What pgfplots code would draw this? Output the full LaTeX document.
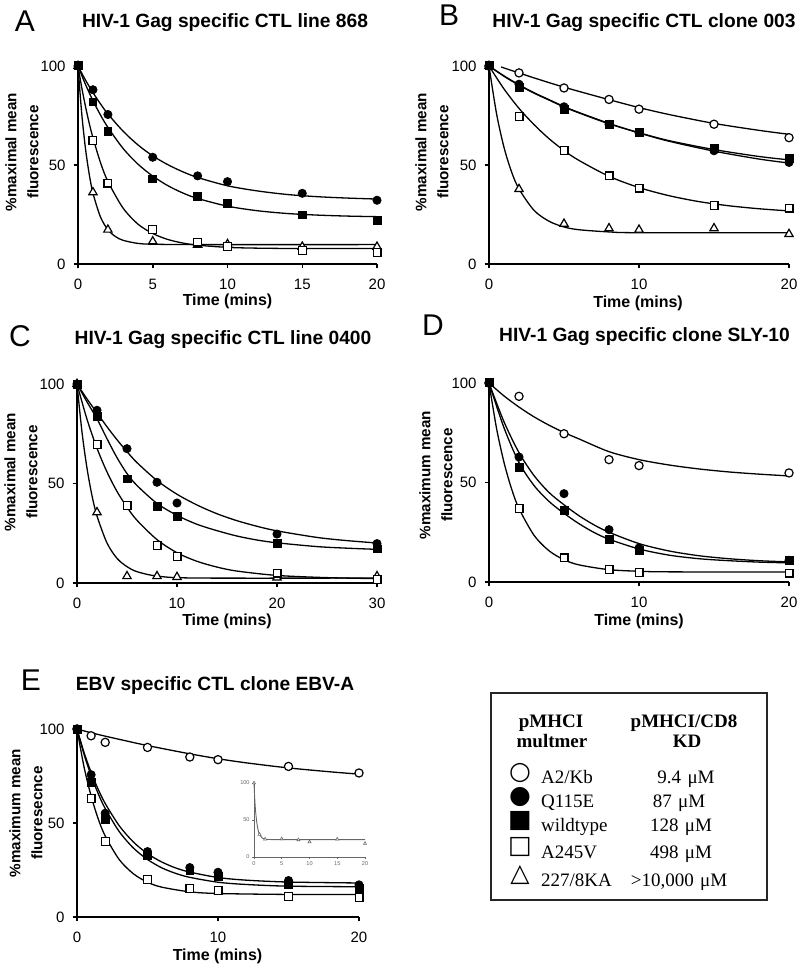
\documentclass[border=0pt]{standalone}
\usepackage{pgfplots}
\pgfplotsset{compat=1.18}
\usepackage{fontspec}
\setmainfont{Liberation Sans}
\newfontfamily\serifleg{Liberation Serif}
\newfontfamily\symfont{DejaVu Sans}

\pgfplotsset{
  panel/.style={
    scale only axis, anchor=south west,
    axis x line*=bottom, axis y line*=left,
    axis line style={-, line width=0.75pt, black},
    tick align=outside, major tick length=2.2pt,
    tick style={line width=0.75pt, black},
    xmin=0, ymin=0, ymax=100, ytick={0,50,100},
    enlargelimits=false, clip=false,
    every tick label/.append style={font=\fontsize{7.5}{8}\selectfont},
    xticklabel style={yshift=-2pt},
    yticklabel style={xshift=-0.5pt},
    /pgf/number format/assume math mode=true,
  },
  curve/.style={smooth, no markers, line width=0.65pt, black},
  ocirc/.style={only marks, mark=*, mark size=2.05pt, mark options={fill=white, draw=black, line width=0.6pt}},
  fcirc/.style={only marks, mark=*, mark size=2.05pt, mark options={fill=black, draw=black}},
  fsq/.style={only marks, mark=square*, mark size=1.95pt, mark options={fill=black, draw=black}},
  osq/.style={only marks, mark=square*, mark size=1.95pt, mark options={fill=white, draw=black, line width=0.6pt}},
  otri/.style={only marks, mark=triangle*, mark size=2.4pt, mark options={fill=white, draw=black, line width=0.6pt}},
}

\begin{document}
\begin{tikzpicture}
\useasboundingbox (0,0) rectangle (400pt,-483.5pt);

% ---------------- Panel A ----------------
\begin{axis}[panel, at={(39pt,-132pt)}, width=149.5pt, height=99pt,
  xmax=20, xtick={0,5,10,15,20}]
\addplot[curve] coordinates {(0,100)(0.25,75.9)(0.5,58.3)(0.75,45.4)(1,35.8)(1.5,23.8)(2,17.3)(2.5,13.9)(3,12.0)(4,10.4)(5,10.0)(8,9.8)(20,9.8)};
\addplot[curve] coordinates {(0,100)(0.25,89.1)(0.5,79.6)(0.75,71.1)(1,63.8)(1.5,51.3)(2,41.7)(3,28.4)(4,20.2)(5,15.4)(6,12.4)(7,10.6)(8,9.5)(10,8.4)(12,8.0)(15,7.8)(20,7.8)};
\addplot[curve] coordinates {(0,100)(0.5,92.9)(1,86.6)(1.5,80.9)(2,75.8)(3,67.2)(4,60.2)(5,54.6)(6,50.2)(7,46.6)(8,43.7)(10,39.5)(12,36.9)(14,35.1)(16,34.0)(18,33.3)(20,32.8)};
\addplot[curve] coordinates {(0,100)(0.5,90.7)(1,82.5)(1.5,75.3)(2,69.0)(3,58.5)(4,50.5)(5,44.4)(6,39.6)(7,35.9)(8,33.1)(10,29.2)(12,26.9)(14,25.5)(16,24.7)(18,24.2)(20,23.9)};
\addplot[otri] coordinates {(0,100)(1,36.2)(2,17.3)(5,11.4)(8,9.7)(10,10)(15,8.7)(20,8.7)};
\addplot[osq] coordinates {(0,100)(1,62.4)(2,40.9)(5,17.3)(8,11.1)(10,8.7)(15,6.9)(20,5.7)};
\addplot[fcirc] coordinates {(0,100)(1,88)(2,75.5)(5,53.9)(8,44.5)(10,41.6)(15,35.7)(20,32.2)};
\addplot[fsq] coordinates {(0,100)(1,81.9)(2,67.1)(5,43)(8,34)(10,30.7)(15,24.8)(20,22.1)};
\end{axis}

% ---------------- Panel B ----------------
\begin{axis}[panel, at={(244.5pt,-132pt)}, width=150pt, height=99pt,
  xmax=20, xtick={0,10,20}]
\addplot[curve] coordinates {(0,100)(0.5,76.0)(1,58.9)(1.5,46.6)(2,37.9)(3,27.1)(4,21.6)(5,18.7)(6,17.3)(8,16.2)(10,15.8)(20,15.8)};
\addplot[curve] coordinates {(0,100)(1,88.4)(2,78.6)(3,70.4)(4,63.3)(5,57.3)(6,52.3)(8,44.3)(10,38.6)(12,34.5)(14,31.5)(16,29.4)(18,27.9)(20,26.8)};
\addplot[curve] coordinates {(0.8,99.5)(1,99)(2,96.5)(3,94)(5,89.3)(8,83)(10,79)(12,75.5)(15,71)(18,67.5)(20,65.5)};
\addplot[curve] coordinates {(0,100)(1,95)(2,90.5)(3,86.5)(4,83)(5,79.5)(6,76.5)(8,71)(10,66.2)(12,62)(15,57)(18,53)(20,51)};
\addplot[curve] coordinates {(0,100)(1,94.8)(2,90.3)(3,86.3)(4,82.8)(5,79.3)(6,76.3)(8,70.8)(10,66.3)(12,62.3)(15,57.8)(18,54.3)(20,52.6)};
\addplot[otri] coordinates {(0,100)(2,37.8)(5,20.3)(8,18)(10,17.3)(15,18)(20,15.1)};
\addplot[osq] coordinates {(0,100)(2,74.5)(5,57.2)(8,44.5)(10,38.3)(15,29.5)(20,28.2)};
\addplot[ocirc] coordinates {(0,100)(2,96.5)(5,88.9)(8,83.1)(10,78.2)(15,70.6)(20,63.8)};
\addplot[fcirc] coordinates {(0,100)(2,90.8)(5,79.4)(8,70.5)(10,66.4)(15,57.2)(20,51.3)};
\addplot[fsq] coordinates {(0,100)(2,89.1)(5,78)(8,70.5)(10,66.4)(15,58.4)(20,53.4)};
\end{axis}

% ---------------- Panel C ----------------
\begin{axis}[panel, at={(38.5pt,-291.5pt)}, width=150pt, height=99.5pt,
  xmax=30, xtick={0,10,20,30}]
\addplot[curve] coordinates {(0,100)(0.5,75.8)(1,57.7)(1.5,43.9)(2,33.7)(3,20.1)(4,12.4)(5,8.2)(6,5.7)(8,3.5)(12,2.5)(30,2.5)};
\addplot[curve] coordinates {(0,100)(1,82.3)(2,67.7)(3,55.8)(4,46.0)(5,38.1)(6,31.5)(8,21.8)(10,15.2)(12,10.9)(14,8.0)(16,6.0)(20,3.8)(25,2.7)(30,2.2)};
\addplot[curve] coordinates {(0,100)(1,92.5)(2,85.5)(3,78.5)(4,72)(5,66)(6,60.5)(8,51.5)(10,44.6)(12,39.2)(14,34.8)(16,31.3)(18,28.5)(20,26.2)(24,22.9)(27,21.3)(30,20.1)};
\addplot[curve] coordinates {(0,100)(1,91)(2,82.5)(3,72.5)(4,63)(5,55)(6,49)(8,40)(10,34)(12,29.5)(14,26.3)(16,23.6)(18,21.6)(20,20.2)(24,18.3)(27,17.5)(30,16.9)};
\addplot[otri] coordinates {(0,100)(2,35.5)(5,3.4)(8,3.4)(10,3)(20,2.7)(30,3.4)};
\addplot[osq] coordinates {(0,100)(2,69.5)(5,38.9)(8,18.8)(10,13.2)(20,5)(30,1.7)};
\addplot[fcirc] coordinates {(0,100)(2,86.8)(5,67.5)(8,50.6)(10,40.2)(20,24.6)(30,19.8)};
\addplot[fsq] coordinates {(0,100)(2,83.8)(5,52.3)(8,38.5)(10,33.5)(20,20.1)(30,17.1)};
\end{axis}

% ---------------- Panel D ----------------
\begin{axis}[panel, at={(244.5pt,-291pt)}, width=150pt, height=99.5pt,
  xmax=20, xtick={0,10,20}]
\addplot[curve] coordinates {(0,100)(0.5,77.3)(1,60.1)(1.5,46.9)(2,36.9)(3,23.5)(4,15.7)(5,11.2)(6,8.6)(8,6.2)(10,5.4)(12,5.1)(20,5.0)};
\addplot[curve] coordinates {(0,100)(1,93.5)(2,87.9)(3,83.0)(4,78.8)(5,75.1)(6,71.9)(8,65.5)(10,61.5)(12,58.8)(14,56.8)(16,55.3)(18,54.2)(20,53.3)};
\addplot[curve] coordinates {(0,100)(1,80.5)(2,65)(3,53.5)(4,45)(5,38.8)(6,33.3)(7,28.7)(8,25)(10,19.3)(12,15.6)(14,13.2)(16,11.7)(18,10.7)(20,10.1)};
\addplot[curve] coordinates {(0,100)(1,77.5)(2,60)(3,48.5)(4,40.5)(5,34.5)(6,29.3)(7,24.9)(8,21.5)(10,16.6)(12,13.5)(14,11.7)(16,10.7)(18,10)(20,9.6)};
\addplot[osq] coordinates {(0,100)(2,36.9)(5,12.1)(8,6.2)(10,4.9)(20,4.5)};
\addplot[ocirc] coordinates {(0,100)(2,93.3)(5,74.5)(8,61.5)(10,58.5)(20,54.8)};
\addplot[fcirc] coordinates {(0,100)(2,62.8)(5,44.4)(8,26.3)(10,17.1)(20,10.9)};
\addplot[fsq] coordinates {(0,100)(2,57.6)(5,36)(8,21.3)(10,15.7)(20,10.7)};
\end{axis}

% ---------------- Panel E ----------------
\begin{axis}[panel, at={(38.5pt,-458.5pt)}, width=141pt, height=94pt,
  xmax=20, xtick={0,10,20}]
\addplot[curve] coordinates {(0,100)(0.5,79.8)(1,64.4)(1.5,52.3)(2,43.1)(3,30.5)(4,23.0)(5,18.5)(6,15.9)(8,13.4)(10,12.5)(15,12)(20,12)};
\addplot[curve] coordinates {(0,100)(1,98)(2,96.2)(3,94.5)(5,91.2)(8,86.8)(10,84.2)(12,82)(15,79.3)(18,77.2)(20,76)};
\addplot[curve] coordinates {(0,100)(0.5,87.5)(1,77.0)(1.5,68.0)(2,60.4)(3,48.5)(4,39.9)(5,33.7)(6,29.3)(7,26.1)(8,23.9)(10,21.0)(12,19.6)(15,18.6)(20,18.1)};
\addplot[curve] coordinates {(0,100)(0.5,86.5)(1,75.2)(1.5,65.7)(2,57.7)(3,45.4)(4,36.7)(5,30.6)(6,26.2)(7,23.2)(8,21.1)(10,18.5)(12,17.3)(15,16.4)(20,16.1)};
\addplot[osq] coordinates {(0,100)(1,62.9)(2,40.1)(5,20.1)(8,15.3)(10,14)(15,10.8)(20,10.3)};
\addplot[ocirc] coordinates {(0,100)(1,96.4)(2,92.9)(5,90.2)(8,85.1)(10,83.7)(15,80.1)(20,76.6)};
\addplot[fcirc] coordinates {(0,100)(1,75.7)(2,55.2)(5,34.8)(8,26.3)(10,23.8)(15,19.4)(20,17.1)};
\addplot[fsq] coordinates {(0,100)(1,71.6)(2,52)(5,32.5)(8,24.5)(10,21.5)(15,17.4)(20,15.3)};
\end{axis}

% ---------------- Inset in E ----------------
\begin{axis}[scale only axis, anchor=south west, at={(127pt,-428.5pt)}, width=55.5pt, height=37pt,
  axis x line*=bottom, axis y line*=left,
  axis line style={-, line width=0.4pt, black!60},
  tick align=outside, major tick length=1pt, tick style={line width=0.4pt, black!60},
  xmin=0, xmax=20, ymin=0, ymax=100, xtick={0,5,10,15,20}, ytick={0,50,100},
  enlargelimits=false, clip=false,
  every tick label/.append style={font=\fontsize{2.8}{3}\selectfont, text=black!60, inner sep=1pt},
  /pgf/number format/assume math mode=true]
\addplot[smooth, no markers, line width=0.45pt, black!60] coordinates {(0,100)(0.1,83.7)(0.2,70.9)(0.3,60.8)(0.5,46.5)(0.75,36.1)(1,30.5)(1.5,25.6)(2,24.1)(3,23.6)(5,23.5)(20,23.5)};
\addplot[only marks, mark=triangle*, mark size=0.9pt, mark options={fill=white, draw=black!60, line width=0.3pt}] coordinates {(0,100)(1,30.5)(2,24.1)(5,24.5)(8,23.2)(10,20.4)(15,24.1)(20,18.3)};
\end{axis}

% ---------------- Texts ----------------
\begin{scope}[x=0.5pt, y=-0.5pt]
\tikzset{letter/.style={font=\fontsize{15}{15}\selectfont, anchor=base},
  ttl/.style={font=\bfseries\fontsize{9.6}{10}\selectfont, anchor=base},
  ylab/.style={font=\bfseries\fontsize{7.6}{11}\selectfont, rotate=90, align=center, anchor=center},
  xlab/.style={font=\bfseries\fontsize{8}{9}\selectfont, anchor=base}}
\node[letter] at (25,32) {A};
\node[letter] at (449,26) {B};
\node[letter] at (20,347) {C};
\node[letter] at (433,336) {D};
\node[letter] at (31,690) {E};

\node[ttl] at (225,28) {HIV-1 Gag specific CTL line 868};
\node[ttl] at (644,28) {HIV-1 Gag specific CTL clone 003};
\node[ttl] at (223,345) {HIV-1 Gag specific CTL line 0400};
\node[ttl] at (644.5,342) {HIV-1 Gag specific clone SLY-10};
\node[ttl] at (215,690) {EBV specific CTL clone EBV-A};

\node[ylab] at (22,152) {\%maximal mean\\fluorescence};
\node[ylab] at (432,152) {\%maximal mean\\fluorescence};
\node[ylab] at (21,472) {\%maximal mean\\fluorescence};
\node[ylab] at (436,475) {\%maximum mean\\fluorescence};
\node[ylab] at (26,813) {\%maximum mean\\fluoresecnce};

\node[xlab] at (227.5,306) {Time (mins)};
\node[xlab] at (638,308) {Time (mins)};
\node[xlab] at (227,625) {Time (mins)};
\node[xlab] at (639,625) {Time (mins)};
\node[xlab] at (217.5,960) {Time (mins)};

% legend box
\draw[line width=0.75pt, black!85] (491,693) rectangle (767,900);
\tikzset{lh/.style={font=\serifleg\bfseries\fontsize{9.5}{10}\selectfont, anchor=base},
  ln/.style={font=\serifleg\fontsize{9.5}{10}\selectfont, anchor=base west},
  lv/.style={font=\serifleg\fontsize{9.5}{10}\selectfont, anchor=base},
  ls/.style={font=\symfont\fontsize{12.5}{13}\selectfont, anchor=center, inner sep=0pt}}
\node[lh] at (551,727) {pMHCI};
\node[lh] at (552,747) {multmer};
\node[lh] at (684,727) {pMHCI/CD8};
\node[lh] at (687,747) {KD};
\node[ls] at (520,773) {○};
\node[ls] at (520,797) {●};
\node[ls] at (520,821) {■};
\node[ls] at (520,847) {□};
\node[ls] at (520,875) {△};
\node[ln] at (534,783) {A2/Kb};
\node[ln] at (534,807) {Q115E};
\node[ln] at (534,831) {wildtype};
\node[ln] at (534,858) {A245V};
\node[ln] at (534,886) {227/8KA};
\node[lv] at (686,783) {9.4\,\,μM};
\node[lv] at (679,807) {87\,\,μM};
\node[lv] at (681,831) {128\,\,μM};
\node[lv] at (681,858) {498\,\,μM};
\node[lv] at (679,886) {>10,000\,\,μM};
\end{scope}
\end{tikzpicture}
\end{document}
